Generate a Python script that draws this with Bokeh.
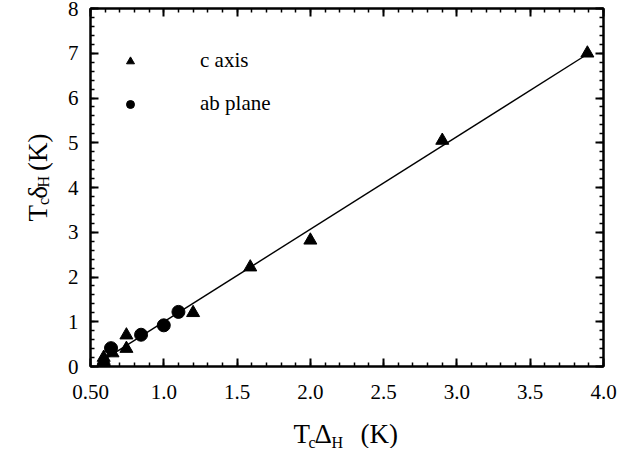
import math
from bokeh.plotting import figure
from bokeh.layouts import row, column
from bokeh.models import (LinearAxis, FixedTicker, Range1d, Legend, LegendItem,
                          ColumnDataSource, CustomJSTickFormatter)
from bokeh.core.properties import value
from bokeh.embed import file_html
from bokeh.resources import INLINE

# ---- data ----
c_axis_x = [0.59, 0.65, 0.745, 0.745, 1.2, 1.59, 2.0, 2.9, 3.89]
c_axis_y = [0.2, 0.3, 0.7, 0.4, 1.2, 2.22, 2.82, 5.05, 7.0]
ab_plane_x = [0.59, 0.64, 0.845, 1.0, 1.1]
ab_plane_y = [0.02, 0.41, 0.71, 0.92, 1.22]
fit_x = [0.6, 3.9]
fit_y = [0.17, 7.0]

x_major = [0.5, 1.0, 1.5, 2.0, 2.5, 3.0, 3.5, 4.0]
x_labels = ["0.50", "1.0", "1.5", "2.0", "2.5", "3.0", "3.5", "4.0"]
x_minor = [round(0.5 + 0.1 * i, 2) for i in range(36)]
y_major = [0, 1, 2, 3, 4, 5, 6, 7, 8]
y_labels = ["0", "1", "2", "3", "4", "5", "6", "7", "8"]
y_minor = [round(0.2 * i, 2) for i in range(41)]

# axis-title pieces: text, font size
x_title = ["T", "c", "\u0394", "H", "(K)"]
y_title = ["T", "c", "\u03b4", "H", "(K)"]
title_sizes = ["27px", "16px", "27px", "16px", "27px"]

FONT = "Liberation Serif"
OX, OY = 0, 2        # observed canvas origin on the page
W_YT = 55            # width of the y-title strip
MAIN_W = 571
MAIN_H = 410         # height of the main plot canvas (8 + 358 + 44)
H_XT = 38            # height of the x-title strip
W_TOTAL = W_YT + MAIN_W

p = figure(width=MAIN_W, height=MAIN_H, frame_width=513, frame_height=358,
           min_border_left=35, min_border_right=23, min_border_top=8, min_border_bottom=44,
           x_range=Range1d(0.5, 4.0), y_range=Range1d(0, 8),
           output_backend="svg", toolbar_location=None)
p.xgrid.visible = False
p.ygrid.visible = False
p.outline_line_color = "black"
p.outline_line_width = 2
p.background_fill_color = "white"
p.border_fill_color = "white"

xt = FixedTicker(ticks=x_major, minor_ticks=x_minor)
yt = FixedTicker(ticks=y_major, minor_ticks=y_minor)

def style(ax, show):
    ax.axis_line_width = 2
    ax.axis_line_color = "black"
    ax.major_tick_in = 8
    ax.major_tick_out = 0
    ax.minor_tick_in = 4
    ax.minor_tick_out = 0
    ax.major_tick_line_width = 2
    ax.minor_tick_line_width = 1.5
    ax.major_tick_line_color = "black"
    ax.minor_tick_line_color = "black"
    if show:
        ax.major_label_text_font = FONT
        ax.major_label_text_font_size = "21px"
        ax.major_label_text_color = "black"
    else:
        ax.formatter = CustomJSTickFormatter(code="return ''")
        ax.major_label_text_font_size = "0px"
        ax.major_label_standoff = 0

bx = p.xaxis[0]
bx.ticker = xt
bx.major_label_overrides = {v: s for v, s in zip(x_major, x_labels)}
style(bx, True)
bx.major_label_standoff = 18

ly = p.yaxis[0]
ly.ticker = yt
ly.major_label_overrides = {v: s for v, s in zip(y_major, y_labels)}
style(ly, True)
ly.major_label_standoff = 12

tx = LinearAxis(ticker=xt)
style(tx, False)
p.add_layout(tx, "above")
ry = LinearAxis(ticker=yt)
style(ry, False)
p.add_layout(ry, "right")

p.line(fit_x, fit_y, line_color="black", line_width=1.4)
r_c = p.scatter(c_axis_x, c_axis_y, marker="triangle", size=13, fill_color="black", line_color="black")
r_ab = p.scatter(ab_plane_x, ab_plane_y, marker="circle", size=13, fill_color="black", line_color="black")

legend = Legend(items=[LegendItem(label="c axis", renderers=[r_c]),
                       LegendItem(label="ab plane", renderers=[r_ab])],
                location=(30, 250), orientation="vertical",
                glyph_width=20, glyph_height=22, label_height=22, label_standoff=60,
                spacing=18, padding=0, margin=0,
                border_line_alpha=0, background_fill_alpha=0,
                label_text_font=FONT, label_text_font_size="21px", label_text_color="black")
p.add_layout(legend, "center")


def strip(w, h):
    f = figure(width=w, height=h, x_range=Range1d(0, w), y_range=Range1d(0, h),
               min_border=0, min_border_left=0, min_border_right=0,
               min_border_top=0, min_border_bottom=0,
               x_axis_type=None, y_axis_type=None,
               output_backend="svg", toolbar_location=None)
    f.xgrid.visible = False
    f.ygrid.visible = False
    f.outline_line_color = None
    f.background_fill_color = "white"
    f.border_fill_color = "white"
    return f

# x title strip: horizontal page positions, baselines measured from the strip top
xs = strip(W_TOTAL, H_XT)
x_page = [293, 308, 314, 331, 360]
base_from_top = [23, 32, 23, 32, 23]
x_src = ColumnDataSource(dict(x=[v - OX for v in x_page],
                              y=[H_XT - v for v in base_from_top],
                              t=x_title, s=title_sizes))
xs.text(x="x", y="y", text="t", source=x_src, text_font=value(FONT), text_font_size="s",
        text_align="left", text_baseline="alphabetic", text_color="black")

# y title strip
ys = strip(W_YT, MAIN_H)
yx_page = [37, 43, 37, 43, 37]
yy_page = [246, 227, 220, 207, 188]
y_src = ColumnDataSource(dict(x=[v - OX for v in yx_page],
                              y=[(OY + MAIN_H) - v for v in yy_page],
                              t=y_title, s=title_sizes))
ys.text(x="x", y="y", text="t", source=y_src, text_font=value(FONT), text_font_size="s",
        angle=math.pi / 2, text_align="left", text_baseline="alphabetic", text_color="black")

layout = column(row(ys, p, spacing=0), xs, spacing=0)

open("out.html", "w").write(file_html(layout, INLINE))
